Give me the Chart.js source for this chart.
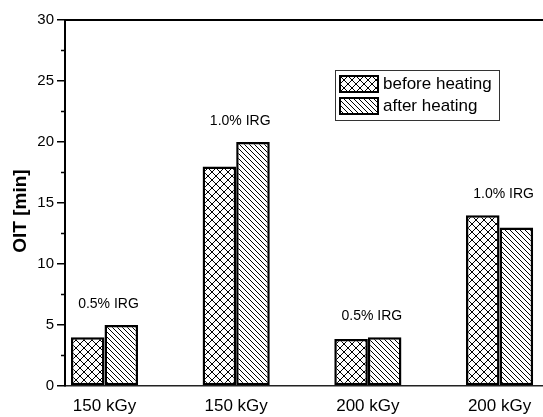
<!DOCTYPE html>
<html>
<head>
<meta charset="utf-8">
<script src="https://cdn.jsdelivr.net/npm/chart.js@4"></script>
<style>
  html, body { margin: 0; padding: 0; background: #fff; }
</style>
</head>
<body>
<canvas id="myChart" width="543" height="417"></canvas>
<script>
const doseLabels = ['150 kGy', '150 kGy', '200 kGy', '200 kGy'];
const irgLabels = ['0.5% IRG', '1.0% IRG', '0.5% IRG', '1.0% IRG'];
const beforeHeating = [4, 18, 3.85, 14];
const afterHeating = [5, 20, 4, 13];
const yTicks = [0, 5, 10, 15, 20, 25, 30];
const yMinorTicks = [2.5, 7.5, 12.5, 17.5, 22.5, 27.5];
const yTitle = 'OIT [min]';

const FONT = '"Liberation Sans", Arial, sans-serif';

// hatch fill: "\" lines, plus "/" lines when cross is set
function makePattern(size, cross) {
    var c = document.createElement('canvas');
    c.width = size;
    c.height = size;
    var g = c.getContext('2d');
    g.fillStyle = '#fff';
    g.fillRect(0, 0, size, size);
    g.strokeStyle = '#000';
    g.lineWidth = 1;
    g.beginPath();
    for (var k = -1; k <= 1; k++) {
        g.moveTo(k * size, 0);
        g.lineTo(k * size + size, size);
        if (cross) {
            g.moveTo(k * size + size, 0);
            g.lineTo(k * size, size);
        }
    }
    g.stroke();
    return g.createPattern(c, 'repeat');
}

const crossFill = makePattern(8, true);
const hatchFill = makePattern(5, false);

const oitDecor = {
    id: 'oitDecor',
    afterDraw(chart) {
        const ctx = chart.ctx;
        const area = chart.chartArea;
        const xs = chart.scales.x;
        const ys = chart.scales.y;
        ctx.save();

        // top frame line
        ctx.strokeStyle = '#000';
        ctx.lineWidth = 2;
        ctx.beginPath();
        ctx.moveTo(area.left - 1, area.top);
        ctx.lineTo(area.right, area.top);
        ctx.stroke();

        // minor ticks on y
        ctx.lineWidth = 1.5;
        ctx.beginPath();
        yMinorTicks.forEach(v => {
            const py = ys.getPixelForValue(v);
            ctx.moveTo(area.left - 4, py);
            ctx.lineTo(area.left, py);
        });
        ctx.stroke();

        // y axis title, sits a little below the middle like the original
        ctx.save();
        ctx.translate(20.5, (area.top + area.bottom) / 2 + 8);
        ctx.rotate(-Math.PI / 2);
        ctx.fillStyle = '#000';
        ctx.font = 'bold 19px ' + FONT;
        ctx.textAlign = 'center';
        ctx.textBaseline = 'middle';
        ctx.fillText(yTitle, 0, 0);
        ctx.restore();

        // IRG labels above each group
        ctx.fillStyle = '#000';
        ctx.font = '14px ' + FONT;
        ctx.textAlign = 'center';
        ctx.textBaseline = 'middle';
        irgLabels.forEach((t, i) => {
            const top = Math.max(beforeHeating[i], afterHeating[i]);
            ctx.fillText(t, xs.getPixelForValue(i) + 4, ys.getPixelForValue(top) - 21);
        });

        // legend box
        const lx = area.left + 270;
        const ly = area.top + 50;
        ctx.lineWidth = 1;
        ctx.strokeStyle = '#333';
        ctx.strokeRect(lx + 0.5, ly + 0.5, 164, 50);
        ctx.font = '17px ' + FONT;
        ctx.textAlign = 'left';
        chart.data.datasets.forEach((ds, i) => {
            const sy = ly + 6 + i * 22;
            ctx.fillStyle = ds.backgroundColor;
            ctx.fillRect(lx + 5, sy, 38, 16);
            ctx.lineWidth = 2;
            ctx.strokeStyle = '#000';
            ctx.strokeRect(lx + 5, sy, 38, 16);
            ctx.fillStyle = '#000';
            ctx.fillText(ds.label, lx + 48, sy + 8);
        });

        ctx.restore();
    }
};

new Chart(document.getElementById('myChart').getContext('2d'), {
    type: 'bar',
    data: {
        datasets: [{
            label: 'before heating',
            data: beforeHeating.map((v, i) => ({x: i, y: v})),
            backgroundColor: crossFill,
            borderColor: '#000',
            borderWidth: 2.5,
            borderSkipped: false
        }, {
            label: 'after heating',
            data: afterHeating.map((v, i) => ({x: i, y: v})),
            backgroundColor: hatchFill,
            borderColor: '#000',
            borderWidth: 2.5,
            borderSkipped: false
        }]
    },
    options: {
        responsive: false,
        animation: false,
        categoryPercentage: 0.51,
        barPercentage: 1,
        layout: { padding: { top: 20, right: 0, bottom: 0, left: 0 } },
        plugins: {
            legend: { display: false },
            tooltip: { enabled: false }
        },
        scales: {
            x: {
                type: 'linear',
                min: -0.3,
                max: 3.33,
                offset: false,
                grid: { display: false, drawTicks: false },
                border: { display: true, color: '#222', width: 1.5 },
                afterBuildTicks: s => { s.ticks = doseLabels.map((l, i) => ({value: i})); },
                ticks: {
                    callback: v => doseLabels[v],
                    autoSkip: false,
                    maxRotation: 0,
                    padding: 10,
                    color: '#000',
                    font: { family: FONT, size: 17 }
                },
                afterFit: s => { s.height = 31; }
            },
            y: {
                min: 0,
                max: 30,
                afterBuildTicks: s => { s.ticks = yTicks.map(v => ({value: v})); },
                grid: { display: true, drawOnChartArea: false, tickLength: 8, color: '#000', lineWidth: 1.5 },
                border: { display: true, color: '#000', width: 2 },
                ticks: { padding: 3, color: '#000', font: { family: FONT, size: 15 } },
                afterFit: s => { s.width = 65; }
            }
        }
    },
    plugins: [oitDecor]
});
</script>
</body>
</html>
